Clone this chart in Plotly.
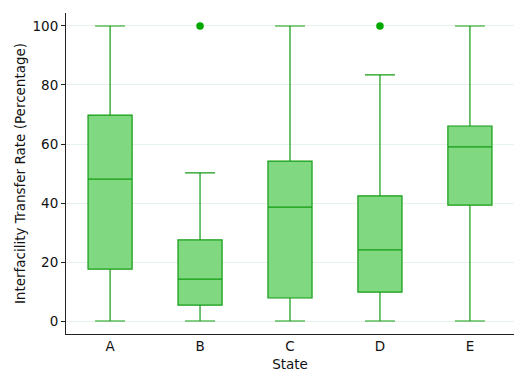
import plotly.graph_objects as go

states = ["A", "B", "C", "D", "E"]
lower_fence = [0, 0, 0, 0, 0]
q1 = [17.6, 5.4, 7.8, 9.8, 39.3]
median = [48.1, 14.2, 38.6, 24.1, 59.0]
q3 = [69.8, 27.5, 54.2, 42.4, 66.1]
upper_fence = [100, 50.2, 100, 83.4, 100]
outlier_states = ["B", "D"]
outlier_values = [100, 100]

line_c = "#129c12"
fill_c = "#80d880"

fig = go.Figure()
fig.add_trace(go.Box(
    x=states, q1=q1, median=median, q3=q3,
    lowerfence=lower_fence, upperfence=upper_fence,
    fillcolor=fill_c, line=dict(color=line_c, width=1.2),
    width=0.49, whiskerwidth=0.68, boxpoints=False, showlegend=False,
))
fig.add_trace(go.Scatter(
    x=outlier_states, y=outlier_values, mode="markers",
    marker=dict(color="#00a800", size=7.5), showlegend=False,
))

fig.update_layout(
    width=520, height=376,
    margin=dict(l=58, r=14, t=5, b=50),
    plot_bgcolor="white", paper_bgcolor="white",
    font=dict(family="DejaVu Sans", size=13.5, color="#111111"),
)
fig.update_xaxes(
    title=dict(text="State", font=dict(size=13.5), standoff=6),
    showline=True, linecolor="#222222", linewidth=1,
    showgrid=False, ticks="", range=[-0.49, 4.49],
)
fig.update_yaxes(
    title=dict(text="Interfacility Transfer Rate (Percentage)", font=dict(size=13.5), standoff=3),
    showline=True, linecolor="#222222", linewidth=1,
    showgrid=True, gridcolor="#e8f2ec", gridwidth=1,
    ticks="outside", ticklen=4, tickcolor="#222222",
    range=[-4.4, 104.4], tickvals=[0, 20, 40, 60, 80, 100], zeroline=False,
)

fig.write_html("out.html")
